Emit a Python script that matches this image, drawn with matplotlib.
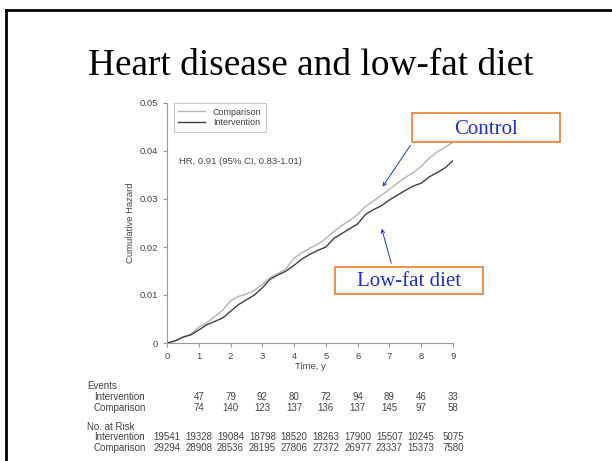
import numpy as np
import matplotlib.pyplot as plt
from matplotlib.patches import Rectangle, FancyArrowPatch
from matplotlib.lines import Line2D
import matplotlib.transforms as mtransforms

# curve values (years, cumulative hazard)
t = [0, 0.25, 0.5, 0.75, 1.0, 1.25, 1.5, 1.75, 2.0, 2.25, 2.5, 2.75, 3.0,
     3.25, 3.5, 3.75, 4.0, 4.25, 4.5, 4.75, 5.0, 5.25, 5.5, 5.75, 6.0,
     6.25, 6.5, 6.75, 7.0, 7.25, 7.5, 7.75, 8.0, 8.25, 8.5, 8.75, 9.0]
comparison = [0, 0.0005, 0.0012, 0.0018, 0.0033, 0.0042, 0.0055, 0.0068, 0.0088,
              0.0097, 0.0102, 0.0110, 0.0122, 0.0137, 0.0145, 0.0155, 0.0177,
              0.0188, 0.0198, 0.0206, 0.0218, 0.0232, 0.0245, 0.0255, 0.0268,
              0.0285, 0.0296, 0.0308, 0.0320, 0.0333, 0.0345, 0.0355, 0.0368,
              0.0385, 0.0398, 0.0408, 0.0418]
intervention = [0, 0.0004, 0.0012, 0.0017, 0.0027, 0.0038, 0.0045, 0.0052, 0.0066,
                0.0080, 0.0090, 0.0100, 0.0115, 0.0133, 0.0142, 0.0150, 0.0162,
                0.0175, 0.0185, 0.0193, 0.0200, 0.0218, 0.0228, 0.0238, 0.0248,
                0.0268, 0.0278, 0.0286, 0.0298, 0.0308, 0.0318, 0.0327, 0.0333,
                0.0346, 0.0355, 0.0365, 0.0380]

event_years = [1, 2, 3, 4, 5, 6, 7, 8, 9]
events_int = [47, 79, 92, 80, 72, 94, 89, 46, 33]
events_cmp = [74, 140, 123, 137, 136, 137, 145, 97, 58]
risk_years = [0, 1, 2, 3, 4, 5, 6, 7, 8, 9]
risk_int = ["19541", "19328", "19084", "18798", "18520", "18263", "17900", "15507", "10245", "5075"]
risk_cmp = ["29294", "28908", "28536", "28195", "27806", "27372", "26977", "23337", "15373", "7580"]

W, H = 612, 461
plt.rcParams['font.family'] = ['Liberation Sans', 'DejaVu Sans']
fig = plt.figure(figsize=(W / 100, H / 100), dpi=100)

def fx(px):
    return px / W

def fy(py):
    return 1 - py / H

# slide frame (top and left only)
fig.add_artist(Line2D([fx(6), 1], [fy(10), fy(10)], color='black', lw=2))
fig.add_artist(Line2D([fx(6), fx(6)], [fy(10), 0], color='black', lw=2))

fig.text(fx(311), fy(75), "Heart disease and low-fat diet", family='Liberation Serif',
         fontsize=26.8, ha='center', va='baseline')

ax = fig.add_axes([fx(167), fy(343), (453 - 167) / W, (343 - 103) / H])
ax.plot(t, comparison, color='#b4b4b4', lw=1.0, label='Comparison')
ax.plot(t, intervention, color='#404040', lw=1.0, label='Intervention')
ax.set_xlim(0, 9)
ax.set_ylim(0, 0.05)
ax.set_xticks(range(10))
ax.set_yticks([0, 0.01, 0.02, 0.03, 0.04, 0.05])
ax.set_yticklabels(["0", "0.01", "0.02", "0.03", "0.04", "0.05"])
for s in ['top', 'right']:
    ax.spines[s].set_visible(False)
for s in ['left', 'bottom']:
    ax.spines[s].set_color('#999999')
    ax.spines[s].set_linewidth(0.8)
ax.tick_params(colors='#999999', labelcolor='#444444', labelsize=6.8, length=3, width=0.8)
ax.set_xlabel("Time, y", fontsize=6.8, color='#444444', labelpad=1)
ax.set_ylabel("Cumulative Hazard", fontsize=6.8, color='#444444', labelpad=3)

leg = ax.legend(loc='upper left', bbox_to_anchor=(0.024, 1.0), borderaxespad=0,
                fontsize=6.5, frameon=True, fancybox=False, handlelength=3.0,
                labelspacing=0.2, borderpad=0.5)
leg.get_frame().set_edgecolor('#bbbbbb')
leg.get_frame().set_linewidth(0.8)
for txt in leg.get_texts():
    txt.set_color('#444444')

fig.text(fx(179), fy(161), "HR, 0.91 (95% CI, 0.83-1.01)", fontsize=6.8,
         color='#444444', ha='left', va='center')

# risk table under the plot
trans = mtransforms.blended_transform_factory(ax.transData, fig.transFigure)
tab_fs = 7
tc = '#444444'
fig.text(fx(87), fy(386), "Events", fontsize=tab_fs, color=tc, va='center')
fig.text(fx(94), fy(397), "Intervention", fontsize=tab_fs, color=tc, va='center')
fig.text(fx(94), fy(408), "Comparison", fontsize=tab_fs, color=tc, va='center')
fig.text(fx(87), fy(427), "No. at Risk", fontsize=tab_fs, color=tc, va='center')
fig.text(fx(94), fy(437), "Intervention", fontsize=tab_fs, color=tc, va='center')
fig.text(fx(94), fy(448), "Comparison", fontsize=tab_fs, color=tc, va='center')
for x, a, b in zip(event_years, events_int, events_cmp):
    fig.text(x, fy(397), str(a), transform=trans, fontsize=tab_fs, color=tc, ha='center', va='center')
    fig.text(x, fy(408), str(b), transform=trans, fontsize=tab_fs, color=tc, ha='center', va='center')
for x, a, b in zip(risk_years, risk_int, risk_cmp):
    fig.text(x, fy(437), a, transform=trans, fontsize=tab_fs, color=tc, ha='center', va='center')
    fig.text(x, fy(448), b, transform=trans, fontsize=tab_fs, color=tc, ha='center', va='center')

# callout boxes with arrows
orange = '#f07a30'
blue = '#1f2fd8'
fig.add_artist(Rectangle((fx(412), fy(142)), (560 - 412) / W, (142 - 113) / H,
                         transform=fig.transFigure, facecolor='white', edgecolor=orange, lw=1.2))
fig.text(fx(486), fy(129), "Control", family='Liberation Serif', fontsize=15,
         color=blue, ha='center', va='center')
fig.add_artist(Rectangle((fx(335), fy(294)), (483 - 335) / W, (294 - 267) / H,
                         transform=fig.transFigure, facecolor='white', edgecolor=orange, lw=1.2))
fig.text(fx(409), fy(282), "Low-fat diet", family='Liberation Serif', fontsize=15,
         color=blue, ha='center', va='center')
fig.add_artist(FancyArrowPatch((fx(412), fy(143)), (fx(381), fy(189)), transform=fig.transFigure,
                               arrowstyle='->', mutation_scale=6, color=blue, lw=0.7))
fig.add_artist(FancyArrowPatch((fx(392), fy(266)), (fx(381), fy(226)), transform=fig.transFigure,
                               arrowstyle='->', mutation_scale=6, color=blue, lw=0.7))

fig.savefig("out.png", dpi=100)
